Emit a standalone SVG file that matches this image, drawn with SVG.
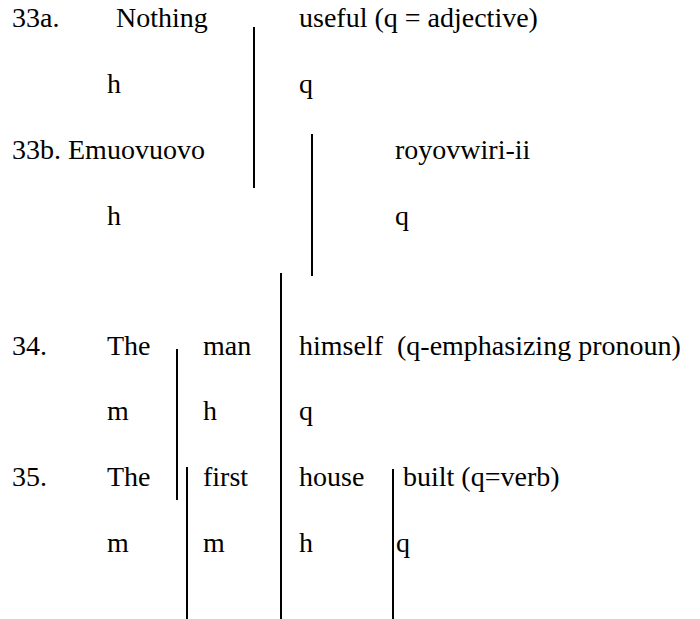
<svg xmlns="http://www.w3.org/2000/svg" width="700" height="619" viewBox="0 0 700 619" font-family="Times New Roman" font-size="28">
<rect width="700" height="619" fill="#fff"/>
<g id="ex33a">
<text x="12" y="27" font-family="Times New Roman">33a.</text>
<text x="116" y="27" font-family="Times New Roman">Nothing</text>
<text x="299" y="27" font-family="Times New Roman">useful (q = adjective)</text>
<text x="107" y="93" font-family="Times New Roman">h</text>
<text x="299" y="93" font-family="Times New Roman">q</text>
</g>
<g id="ex33b">
<text x="12" y="159" font-family="Times New Roman">33b. Emuovuovo</text>
<text x="395" y="159" font-family="Times New Roman">royovwiri-ii</text>
<text x="107" y="225" font-family="Times New Roman">h</text>
<text x="395" y="225" font-family="Times New Roman">q</text>
</g>
<g id="ex34">
<text x="12" y="355" font-family="Times New Roman">34.</text>
<text x="107" y="355" font-family="Times New Roman">The</text>
<text x="203" y="355" font-family="Times New Roman">man</text>
<text x="299" y="355" font-family="Times New Roman" xml:space="preserve">himself  (q-emphasizing pronoun)</text>
<text x="107" y="420" font-family="Times New Roman">m</text>
<text x="203" y="420" font-family="Times New Roman">h</text>
<text x="299" y="420" font-family="Times New Roman">q</text>
</g>
<g id="ex35">
<text x="12" y="486" font-family="Times New Roman">35.</text>
<text x="107" y="486" font-family="Times New Roman">The</text>
<text x="203" y="486" font-family="Times New Roman">first</text>
<text x="299" y="486" font-family="Times New Roman">house</text>
<text x="403" y="486" font-family="Times New Roman">built (q=verb)</text>
<text x="107" y="552" font-family="Times New Roman">m</text>
<text x="203" y="552" font-family="Times New Roman">m</text>
<text x="299" y="552" font-family="Times New Roman">h</text>
<text x="396" y="552" font-family="Times New Roman">q</text>
</g>
<g id="connectors" stroke="#000" stroke-width="2">
<line x1="254" y1="27" x2="254" y2="188"/>
<line x1="312" y1="134" x2="312" y2="276"/>
<line x1="281" y1="273" x2="281" y2="619"/>
<line x1="177" y1="349" x2="177" y2="500"/>
<line x1="187" y1="467" x2="187" y2="619"/>
<line x1="393" y1="469" x2="393" y2="619"/>
</g>
</svg>
